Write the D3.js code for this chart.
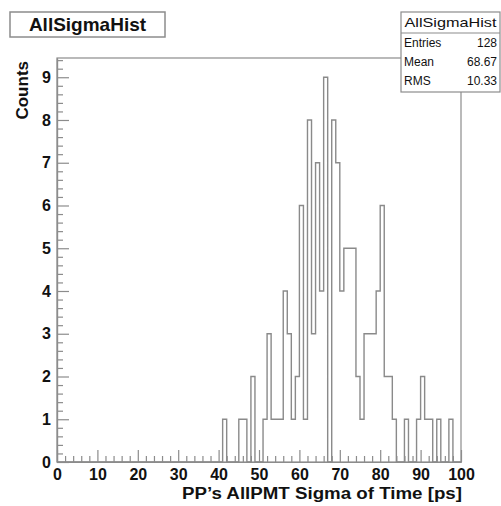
<!DOCTYPE html>
<html>
<head>
<meta charset="utf-8">
<script src="https://cdn.jsdelivr.net/npm/d3@7"></script>
<style>
  html, body { margin: 0; padding: 0; background: #fff; }
  svg text { font-family: "Liberation Sans", Arial, Helvetica, sans-serif; fill: #111; }
</style>
</head>
<body>
<svg id="chart" width="501" height="506"></svg>
<script>
// Histogram contents: one entry per 1 ps bin, bins [0,1) ... [99,100)
const binCounts = [
  0,0,0,0,0,0,0,0,0,0,   // 0-9
  0,0,0,0,0,0,0,0,0,0,   // 10-19
  0,0,0,0,0,0,0,0,0,0,   // 20-29
  0,0,0,0,0,0,0,0,0,0,   // 30-39
  0,1,0,0,0,1,1,0,2,0,   // 40-49
  0,1,3,1,1,1,4,3,1,2,   // 50-59
  6,1,8,3,7,4,9,0,8,7,   // 60-69
  4,5,5,5,2,1,3,3,3,4,   // 70-79
  6,2,2,1,0,0,1,0,0,1,   // 80-89
  2,1,1,0,1,0,0,1,0,0    // 90-99
];
const xRange = [0, 100];
const xMajorTicks = [0, 10, 20, 30, 40, 50, 60, 70, 80, 90, 100];
const yMajorTicks = [0, 1, 2, 3, 4, 5, 6, 7, 8, 9];
const histName = "AllSigmaHist";
const statLabels = ["Entries", "Mean", "RMS"];
const statValues = ["128", "68.67", "10.33"];
const xTitle = "PP\u2019s AllPMT Sigma of Time [ps]";
const yTitle = "Counts";

const svg = d3.select("#chart");
const frame = { left: 57, right: 461, top: 58, bottom: 462 };
const lineGray = "#8c8c8c";

const yMax = d3.max(binCounts) * 1.05;
const x = d3.scaleLinear().domain(xRange).range([frame.left, frame.right]);
const y = d3.scaleLinear().domain([0, yMax]).range([frame.bottom, frame.top]);

// frame box
svg.append("rect")
  .attr("x", frame.left).attr("y", frame.top)
  .attr("width", frame.right - frame.left).attr("height", frame.bottom - frame.top)
  .attr("fill", "none").attr("stroke", lineGray).attr("stroke-width", 1.2);

// minor ticks every 2 on x, every 0.2 on y
const xMinor = d3.range(0, 100.001, 2).filter(v => v % 10 !== 0);
const yMinor = d3.range(0, yMax, 0.2).map(v => +v.toFixed(1)).filter(v => Math.abs(v - Math.round(v)) > 1e-6);

function styleAxis(g) {
  g.selectAll("path").attr("stroke", lineGray).attr("stroke-width", 1.2);
  g.selectAll("line").attr("stroke", lineGray).attr("stroke-width", 1.2);
}

svg.append("g")
  .attr("transform", `translate(0,${frame.bottom})`)
  .call(d3.axisBottom(x).tickValues(xMinor).tickSizeInner(-6).tickSizeOuter(0).tickFormat(""))
  .call(styleAxis);
const xAxisG = svg.append("g")
  .attr("transform", `translate(0,${frame.bottom})`)
  .call(d3.axisBottom(x).tickValues(xMajorTicks).tickSizeInner(-12).tickSizeOuter(0).tickPadding(7).tickFormat(d3.format("d")))
  .call(styleAxis);
xAxisG.selectAll("text").attr("font-size", 16).attr("font-weight", "bold").attr("fill", "#111");

svg.append("g")
  .attr("transform", `translate(${frame.left},0)`)
  .call(d3.axisLeft(y).tickValues(yMinor).tickSizeInner(-6).tickSizeOuter(0).tickFormat(""))
  .call(styleAxis);
const yAxisG = svg.append("g")
  .attr("transform", `translate(${frame.left},0)`)
  .call(d3.axisLeft(y).tickValues(yMajorTicks).tickSizeInner(-12).tickSizeOuter(0).tickPadding(6).tickFormat(d3.format("d")))
  .call(styleAxis);
yAxisG.selectAll("text").attr("font-size", 16).attr("font-weight", "bold").attr("fill", "#111");
svg.selectAll(".domain").attr("stroke", lineGray);

// histogram outline (step line over bin edges)
const binWidth = (xRange[1] - xRange[0]) / binCounts.length;
const outline = [[xRange[0], 0]];
binCounts.forEach((c, i) => {
  const lo = xRange[0] + i * binWidth;
  outline.push([lo, c], [lo + binWidth, c]);
});
outline.push([xRange[1], 0]);
svg.append("path")
  .datum(outline)
  .attr("fill", "none")
  .attr("stroke", "#8a8a8a")
  .attr("stroke-width", 1.4)
  .attr("d", d3.line().x(d => x(d[0])).y(d => y(d[1])));

// axis titles
svg.append("text")
  .attr("x", frame.right + 1).attr("y", 499)
  .attr("text-anchor", "end")
  .attr("font-size", 16).attr("font-weight", "bold")
  .attr("textLength", 280).attr("lengthAdjust", "spacingAndGlyphs")
  .text(xTitle);
svg.append("text")
  .attr("transform", `translate(28,${frame.top + 3}) rotate(-90)`)
  .attr("text-anchor", "end")
  .attr("font-size", 17).attr("font-weight", "bold")
  .text(yTitle);

// title box
svg.append("rect")
  .attr("x", 10).attr("y", 12).attr("width", 155).attr("height", 25)
  .attr("fill", "#fff").attr("stroke", lineGray).attr("stroke-width", 1.5);
svg.append("text")
  .attr("x", 87.5).attr("y", 31)
  .attr("text-anchor", "middle")
  .attr("font-size", 19).attr("font-weight", "bold")
  .text(histName);

// statistics box
const stats = { left: 401, right: 500, top: 12, bottom: 92, split: 33 };
svg.append("rect")
  .attr("x", stats.left).attr("y", stats.top)
  .attr("width", stats.right - stats.left).attr("height", stats.bottom - stats.top)
  .attr("fill", "#fff").attr("stroke", lineGray).attr("stroke-width", 1.2);
svg.append("line")
  .attr("x1", stats.left).attr("x2", stats.right)
  .attr("y1", stats.split).attr("y2", stats.split)
  .attr("stroke", lineGray).attr("stroke-width", 1.2);
svg.append("text")
  .attr("x", (stats.left + stats.right) / 2).attr("y", 27)
  .attr("text-anchor", "middle")
  .attr("font-size", 13)
  .attr("textLength", 92).attr("lengthAdjust", "spacingAndGlyphs")
  .text(histName);
const rowY = d3.scalePoint().domain(statLabels).range([47, 85]);
statLabels.forEach((lab, i) => {
  svg.append("text").attr("x", 404).attr("y", rowY(lab))
    .attr("font-size", 12).text(lab);
  svg.append("text").attr("x", 497).attr("y", rowY(lab))
    .attr("text-anchor", "end").attr("font-size", 12).text(statValues[i]);
});
</script>
</body>
</html>
